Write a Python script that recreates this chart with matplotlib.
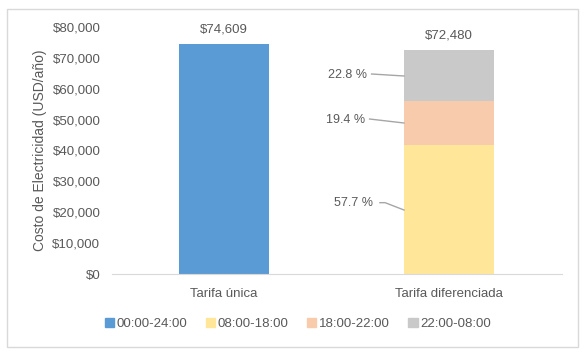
import matplotlib.pyplot as plt
from matplotlib.patches import Patch, Rectangle

plt.rcParams['font.family'] = ['Liberation Sans', 'DejaVu Sans']

# Data
categories = ["Tarifa única", "Tarifa diferenciada"]
single_total = 74609
diff_total = 72480
segments = ["08:00-18:00", "18:00-22:00", "22:00-08:00"]
seg_pct = [57.7, 19.4, 22.8]
seg_values = [41821, 14061, 16525]
legend_labels = ["00:00-24:00", "08:00-18:00", "18:00-22:00", "22:00-08:00"]
yticks = [0, 10000, 20000, 30000, 40000, 50000, 60000, 70000, 80000]

colors = ["#5B9BD5", "#FFE699", "#F8CBAD", "#C9C9C9"]
txt = "#595959"
W, H = 587, 356

fig = plt.figure(figsize=(W / 100, H / 100), dpi=100)
fig.patches.append(Rectangle((7 / W, 1 - 347 / H), 571 / W, 338 / H,
                             transform=fig.transFigure, fill=False,
                             edgecolor="#d9d9d9", lw=1))

ax = fig.add_axes([111.5 / W, 1 - 274 / H, 450 / W, 247 / H])
x = [0, 1]
bw = 0.4

ax.bar(x[0], single_total, width=bw, color=colors[0])
bottom = 0
for v, c in zip(seg_values, colors[1:]):
    ax.bar(x[1], v, width=bw, bottom=bottom, color=c)
    bottom += v

ax.set_xlim(-0.5, 1.5)
ax.set_ylim(0, 80000)
ax.set_yticks(yticks)
ax.set_yticklabels(["${:,}".format(t) for t in yticks], color=txt, fontsize=9.5)
ax.set_xticks(x)
ax.set_xticklabels(categories, color=txt, fontsize=9.5)
ax.tick_params(length=0, pad=8)
ax.tick_params(axis="x", pad=10)
for s in ["top", "right", "left"]:
    ax.spines[s].set_visible(False)
ax.spines["bottom"].set_color("#d9d9d9")
ax.set_ylabel("Costo de Electricidad (USD/año)", color=txt, fontsize=10, labelpad=4)

# totals
for xi, tot in zip(x, [single_total, diff_total]):
    ax.annotate("${:,}".format(tot), (xi, tot), xytext=(0, 6),
                textcoords="offset points", ha="center", va="bottom",
                color=txt, fontsize=9.5)

# percentage labels with leader lines (text anchor, line points in data coords)
edge = x[1] - bw / 2
label_xy = [(0.662, 22996), (0.627, 49879), (0.636, 64454)]
leaders = [
    ([0.693, 0.716, edge], [23100, 23100, 20729]),
    ([0.647, edge], [50200, 48907]),
    ([0.656, edge], [64778, 64130]),
]
for p, (tx, ty), (lx, ly) in zip(seg_pct, label_xy, leaders):
    ax.text(tx, ty, "{:.1f} %".format(p), ha="right", va="center",
            color=txt, fontsize=9)
    ax.plot(lx, ly, color="#a6a6a6", lw=1)

handles = [Patch(color=c) for c in colors]
fig.legend(handles, legend_labels, loc="center", bbox_to_anchor=(298 / W, 1 - 324 / H),
           ncol=4, frameon=False, handlelength=0.7, handleheight=0.7,
           handletextpad=0.2, columnspacing=1.4, fontsize=9.5, labelcolor=txt)

fig.savefig("out.png", dpi=100)
